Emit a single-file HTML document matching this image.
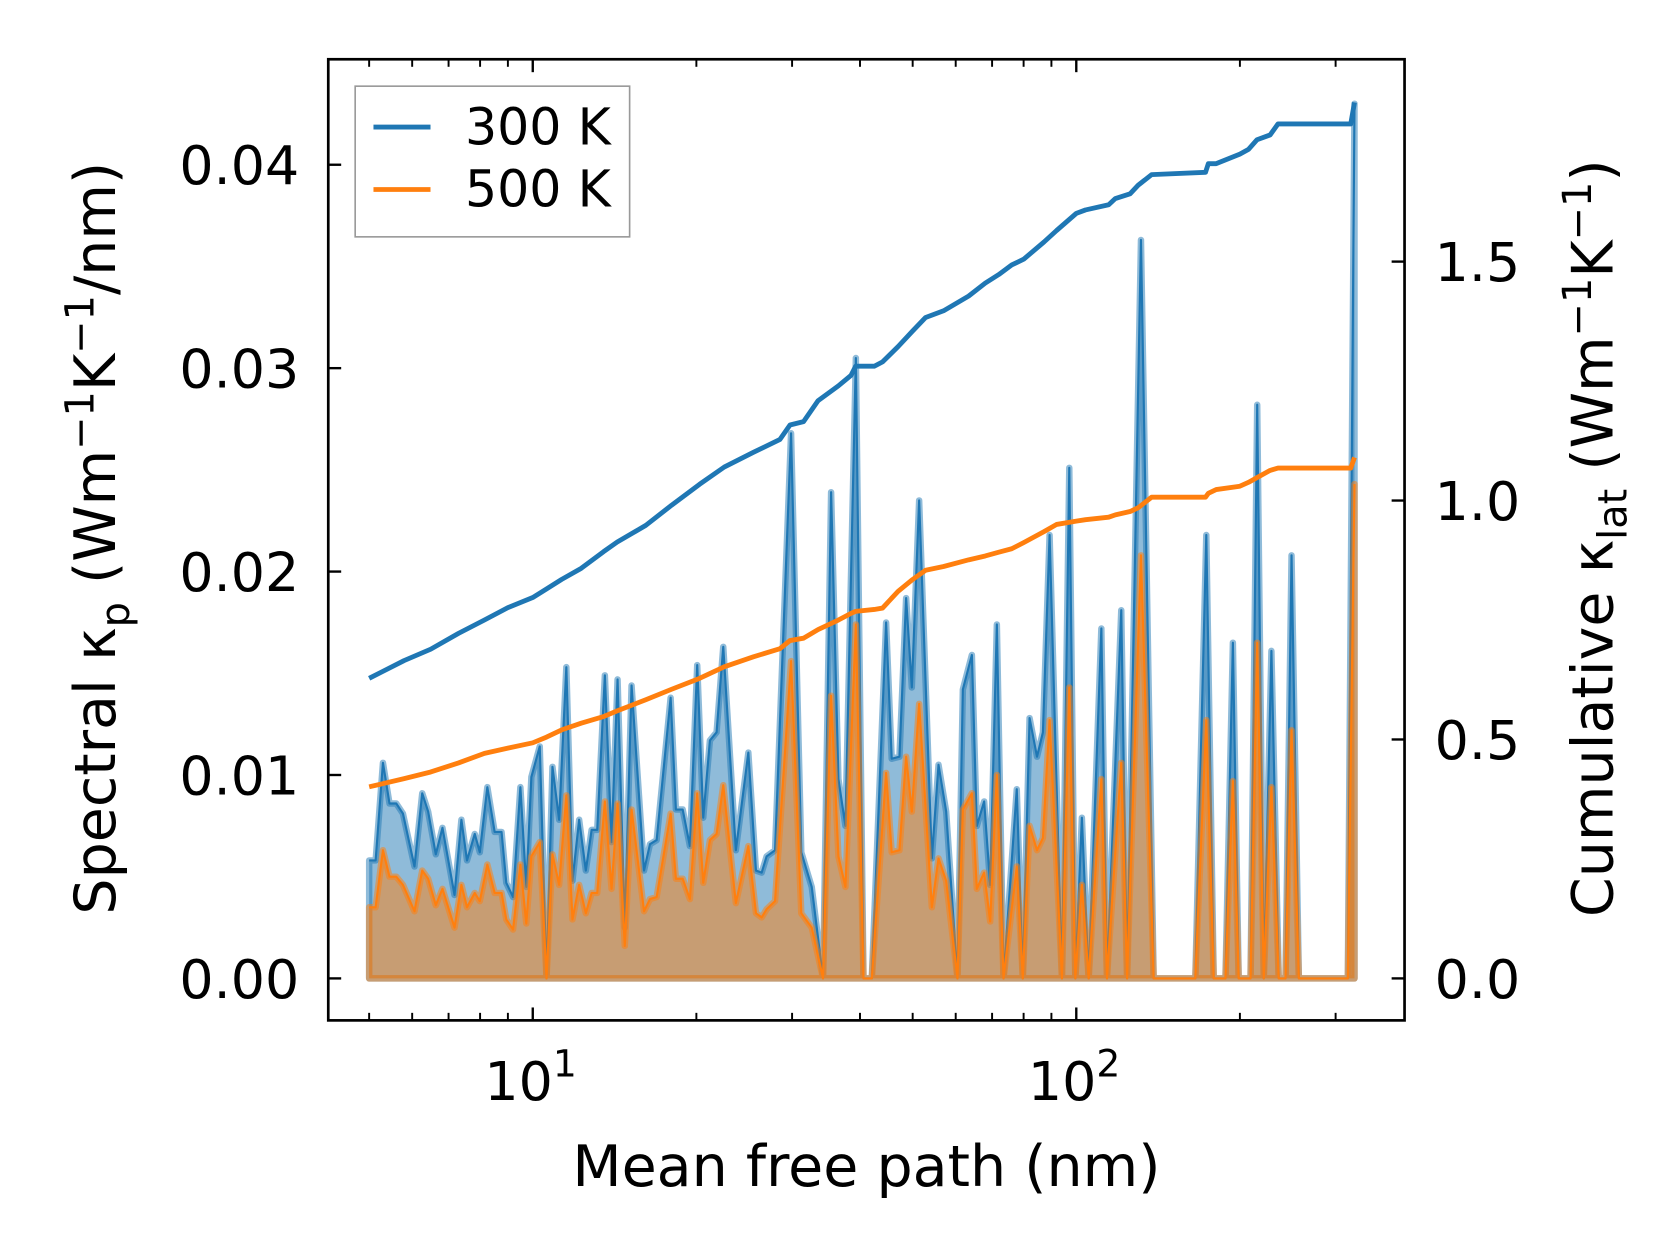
<!DOCTYPE html>
<html><head><meta charset="utf-8"><style>
html,body{margin:0;padding:0;background:#fff}
svg{display:block;font-family:"DejaVu Sans","Liberation Sans",sans-serif}
</style></head><body>
<svg id="chart" width="1679" height="1254" viewBox="0 0 1560 1165" xmlns="http://www.w3.org/2000/svg">
<g id="plot"></g>
<g id="axes"></g>
</svg>
<script>
// Spectral data (mean free path in nm, kappa per nm)
const mfp300 = [5.0,5.14,5.30,5.45,5.61,5.77,6.06,6.26,6.42,6.63,6.82,7.18,7.39,7.57,7.82,7.99,8.25,8.51,8.76,8.94,9.20,9.49,9.73,9.94,10.30,10.60,10.87,11.18,11.53,11.83,12.17,12.52,12.83,13.14,13.57,13.96,14.32,14.77,15.20,16.02,16.43,16.90,17.93,18.34,18.87,19.46,20.07,20.59,21.18,21.79,22.41,23.64,24.92,25.75,26.37,26.93,27.91,29.87,31.2,32.6,34.2,35.4,36.5,37.6,39.3,40.6,42.05,44.68,45.76,47.28,48.64,49.82,51.39,54.22,55.79,57.63,60.45,61.84,64.25,65.61,67.70,69.43,71.42,73.47,77.73,79.74,82.04,84.65,86.82,89.31,94.1,97.07,99.6,102.4,105.4,111.2,113.9,121.0,124.0,131.5,138.8,165.6,173.5,179.0,188.1,194.1,199.0,209.2,215.2,221.3,228.6,235.8,242.6,248.9,256.8,316.0,325.0];
const spec300 = [0.0058,0.0058,0.0106,0.0086,0.0086,0.0081,0.0055,0.0091,0.0082,0.0061,0.0074,0.0041,0.0078,0.0058,0.0071,0.0062,0.0094,0.0072,0.0072,0.0047,0.0040,0.0094,0.0045,0.0099,0.0114,0,0.0104,0.0078,0.0153,0.0048,0.0078,0.0053,0.0073,0.0073,0.0149,0.0067,0.0147,0.0025,0.0144,0.0053,0.0066,0.0068,0.0138,0.0083,0.0083,0.0065,0.0154,0.0079,0.0117,0.0121,0.0163,0.0063,0.0111,0.0053,0.0052,0.0060,0.0063,0.0268,0.0062,0.0045,0,0.0239,0.0098,0.0075,0.0305,0,0,0.0175,0.0108,0.0109,0.0187,0.0143,0.0235,0.0059,0.0105,0.0082,0,0.0142,0.0159,0.0075,0.0087,0.0046,0.0174,0,0.0093,0,0.0128,0.0109,0.0121,0.0218,0,0.0251,0,0.0079,0,0.0172,0,0.0181,0,0.0363,0,0,0.0218,0,0,0.0165,0,0,0.0282,0,0.0161,0,0,0.0208,0,0,0.0430];
const spec500 = [0.0035,0.0035,0.0063,0.0050,0.0050,0.0046,0.0033,0.0053,0.0049,0.0036,0.0044,0.0025,0.0046,0.0035,0.0042,0.0038,0.0056,0.0042,0.0042,0.0029,0.0024,0.0056,0.0027,0.0060,0.0067,0,0.0061,0.0046,0.0090,0.0029,0.0046,0.0032,0.0042,0.0042,0.0087,0.0044,0.0086,0.0016,0.0083,0.0033,0.0039,0.0040,0.0081,0.0049,0.0049,0.0039,0.0091,0.0047,0.0068,0.0071,0.0095,0.0037,0.0065,0.0032,0.0030,0.0034,0.0038,0.0156,0.0032,0.0025,0,0.0139,0.0060,0.0045,0.0174,0,0,0.0101,0.0062,0.0063,0.0109,0.0082,0.0135,0.0035,0.0059,0.0048,0,0.0083,0.0091,0.0044,0.0052,0.0028,0.0100,0,0.0055,0,0.0075,0.0063,0.0069,0.0127,0,0.0143,0,0.0046,0,0.0098,0,0.0106,0,0.0208,0,0,0.0127,0,0,0.0097,0,0,0.0165,0,0.0094,0,0,0.0122,0,0,0.0243];
// Cumulative data
const cumX = [5.0,5.8,6.49,7.3,8.15,9.0,10,10.6,11.3,12.28,13.5,14.3,16.14,18.0,20.27,22.5,25.47,28.5,29.73,31.5,33.49,36.5,38.5,39.27,42.5,44.02,47.0,50.0,52.82,57.0,63.39,68.0,72.0,76.07,80.0,87.22,92.0,100,104,114.7,118,125.6,130,137.6,172.9,175,180.9,200,207.4,215,227.3,235,248.9,319.9,325.0];
const cum300 = [0.628,0.665,0.689,0.722,0.75,0.776,0.797,0.815,0.835,0.858,0.893,0.913,0.948,0.99,1.034,1.07,1.101,1.128,1.158,1.165,1.209,1.240,1.262,1.281,1.281,1.290,1.322,1.355,1.383,1.397,1.428,1.455,1.473,1.493,1.505,1.541,1.565,1.601,1.608,1.619,1.632,1.642,1.660,1.682,1.687,1.705,1.705,1.725,1.735,1.755,1.765,1.788,1.788,1.788,1.833];
const cum500 = [0.401,0.418,0.432,0.451,0.471,0.482,0.493,0.505,0.520,0.534,0.548,0.560,0.583,0.605,0.628,0.652,0.673,0.690,0.707,0.712,0.73,0.750,0.764,0.768,0.772,0.775,0.810,0.835,0.854,0.862,0.876,0.884,0.892,0.899,0.912,0.935,0.950,0.957,0.960,0.965,0.970,0.977,0.985,1.007,1.007,1.015,1.023,1.030,1.038,1.048,1.063,1.068,1.068,1.068,1.09];
const leftTicks = [0,0.01,0.02,0.03,0.04];
const leftTickLabels = ["0.00","0.01","0.02","0.03","0.04"];
const rightTicks = [0,0.5,1.0,1.5];
const rightTickLabels = ["0.0","0.5","1.0","1.5"];

const NS="http://www.w3.org/2000/svg";
const L=305,R=1305,T=55,B=948;
const xs=v=>495+(Math.log10(v)-1)*505;
const yl=v=>909-v*18900;
const yr=v=>909-v*444;
function mk(tag,attrs,parent){const e=document.createElementNS(NS,tag);for(const k in attrs)e.setAttribute(k,attrs[k]);parent.appendChild(e);return e;}
const plot=document.getElementById('plot'), axes=document.getElementById('axes');
const cp=mk('clipPath',{id:'clip'},plot);
mk('rect',{x:L,y:T,width:R-L,height:B-T},cp);
const g=mk('g',{'clip-path':'url(#clip)'},plot);

function spectral(vals,color,name){
  let pts=mfp300.map((x,i)=>xs(x).toFixed(1)+','+yl(vals[i]).toFixed(1));
  const area='M'+xs(mfp300[0])+','+yl(0)+' L'+pts.join(' L')+' L'+xs(mfp300[mfp300.length-1])+','+yl(0)+' Z';
  const a=mk('path',{d:area,fill:color,'fill-opacity':0.5,stroke:color,'stroke-opacity':0.5,'stroke-width':6,'stroke-linejoin':'round'},g);
  
  
  const l=mk('polyline',{points:pts.join(' '),fill:'none',stroke:color,'stroke-width':2,'stroke-linejoin':'round'},g);
  
  
}
spectral(spec300,'#1f77b4','spectral-300k');
spectral(spec500,'#ff7f0e','spectral-500k');
function cum(vals,color,name){
  const pts=cumX.map((x,i)=>xs(x).toFixed(1)+','+yr(vals[i]).toFixed(1)).join(' ');
  const l=mk('polyline',{points:pts,fill:'none',stroke:color,'stroke-width':4.5,'stroke-linejoin':'round'},g);
  
  
}
cum(cum300,'#1f77b4','cumulative-300k');
cum(cum500,'#ff7f0e','cumulative-500k');

const fr=mk('rect',{x:L,y:T,width:R-L,height:B-T,fill:'none',stroke:'#000','stroke-width':2.5},axes);


leftTicks.forEach((v,i)=>{
  mk('line',{x1:L,x2:L+12,y1:yl(v),y2:yl(v),stroke:'#000','stroke-width':2.2},axes);
  const t=mk('text',{x:278,y:yl(v)+18,'text-anchor':'end','font-size':50},axes);
  t.textContent=leftTickLabels[i];
  
  
});
rightTicks.forEach((v,i)=>{
  mk('line',{x1:R-12,x2:R,y1:yr(v),y2:yr(v),stroke:'#000','stroke-width':2.2},axes);
  const t=mk('text',{x:1333,y:yr(v)+18,'text-anchor':'start','font-size':50},axes);
  t.textContent=rightTickLabels[i];
  
  
});
[10,100].forEach(v=>{
  mk('line',{x1:xs(v),x2:xs(v),y1:B,y2:B-12,stroke:'#000','stroke-width':2.2},axes);
  mk('line',{x1:xs(v),x2:xs(v),y1:T,y2:T+12,stroke:'#000','stroke-width':2.2},axes);
});
[5,6,7,8,9,20,30,40,50,60,70,80,90,200,300].forEach(v=>{
  mk('line',{x1:xs(v),x2:xs(v),y1:B,y2:B-7,stroke:'#000','stroke-width':1.8},axes);
  mk('line',{x1:xs(v),x2:xs(v),y1:T,y2:T+7,stroke:'#000','stroke-width':1.8},axes);
});
[[10,'1'],[100,'2']].forEach(([v,e])=>{
  const t=mk('text',{x:xs(v)-2,y:1022,'text-anchor':'middle','font-size':50},axes);
  t.innerHTML='10<tspan dy="-22" font-size="35">'+e+'</tspan>';
  
  
});
</script>
<svg style="position:absolute;left:0;top:0" width="1679" height="1254" viewBox="0 0 1560 1165" xmlns="http://www.w3.org/2000/svg" font-family="DejaVu Sans, Liberation Sans, sans-serif">
<text x="805" y="1102" text-anchor="middle" font-size="53">Mean free path (nm)</text>
<text transform="translate(107,500) rotate(-90)" text-anchor="middle" font-size="53">Spectral κ<tspan dy="13" font-size="37">p</tspan><tspan dy="-13"> (Wm</tspan><tspan dy="-20" font-size="37">−1</tspan><tspan dy="20">K</tspan><tspan dy="-20" font-size="37">−1</tspan><tspan dy="20">/nm)</tspan></text>
<text transform="translate(1498,500) rotate(-90)" text-anchor="middle" font-size="53">Cumulative κ<tspan dy="13" font-size="37">lat</tspan><tspan dy="-13"> (Wm</tspan><tspan dy="-20" font-size="37">−1</tspan><tspan dy="20">K</tspan><tspan dy="-20" font-size="37">−1</tspan><tspan dy="20">)</tspan></text>
<g>
<rect x="330" y="80" width="255" height="140" fill="#fff" fill-opacity="0.8" stroke="#999" stroke-width="1.5"/>
<g><line x1="347" x2="400" y1="118" y2="118" stroke="#1f77b4" stroke-width="4.5"/><text x="432" y="134" font-size="47">300 K</text></g>
<g><line x1="347" x2="400" y1="176" y2="176" stroke="#ff7f0e" stroke-width="4.5"/><text x="432" y="192" font-size="47">500 K</text></g>
</g>
</svg>
</body></html>
